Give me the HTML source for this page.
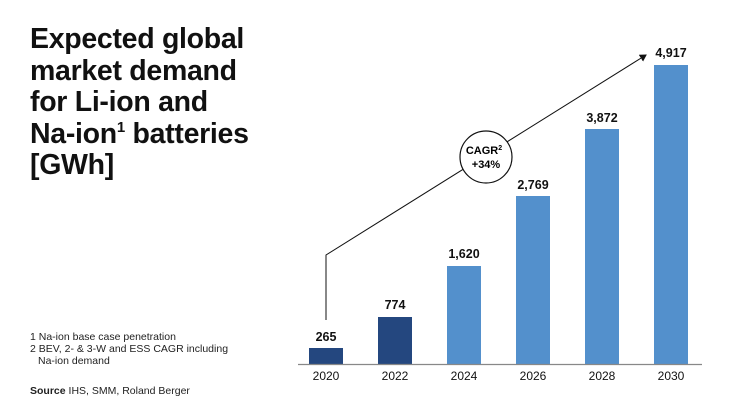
<!DOCTYPE html>
<html><head><style>
body{margin:0;width:746px;height:419px;background:#fff;overflow:hidden;font-family:"Liberation Sans",sans-serif;}
.t{position:absolute;left:30px;top:24px;font-size:28.5px;font-weight:bold;line-height:31.5px;color:#111;letter-spacing:-0.3px}
.f{position:absolute;left:30px;font-size:10.5px;color:#222}
</style></head><body>
<div class="t">Expected global<br>market demand<br>for Li-ion and<br>Na-ion<sup style="font-size:15px;vertical-align:11px;line-height:0">1</sup> batteries<br>[GWh]</div>
<div class="f" style="top:331px">1 Na-ion base case penetration</div>
<div class="f" style="top:343px">2 BEV, 2- &amp; 3-W and ESS CAGR including</div>
<div class="f" style="top:355px;left:38px">Na-ion demand</div>
<div class="f" style="top:385px"><b>Source</b> IHS, SMM, Roland Berger</div>
<svg width="746" height="419" style="position:absolute;left:0;top:0" font-family="Liberation Sans, sans-serif">
<defs><marker id="a" markerWidth="8" markerHeight="8" refX="6" refY="4" orient="auto"><path d="M0,0 L7,4 L0,8 z" fill="#111"/></marker></defs>
<g fill="#24477f"><rect x="309" y="348" width="34" height="16"/><rect x="378" y="317" width="34" height="47"/></g>
<g fill="#5390cc"><rect x="447" y="266" width="34" height="98"/><rect x="516" y="196" width="34" height="168"/><rect x="585" y="129" width="34" height="235"/><rect x="654" y="65" width="34" height="299"/></g>
<line x1="298" y1="364.5" x2="702" y2="364.5" stroke="#888" stroke-width="1.2"/>
<g font-size="12" text-anchor="middle" fill="#111"><text x="326" y="380">2020</text><text x="395" y="380">2022</text><text x="464" y="380">2024</text><text x="533" y="380">2026</text><text x="602" y="380">2028</text><text x="671" y="380">2030</text></g>
<g font-size="12.5" font-weight="bold" text-anchor="middle" fill="#111"><text x="326" y="341">265</text><text x="395" y="309">774</text><text x="464" y="258">1,620</text><text x="533" y="189">2,769</text><text x="602" y="122">3,872</text><text x="671" y="57">4,917</text></g>
<polyline points="326,320 326,255 646,55" fill="none" stroke="#111" stroke-width="1" marker-end="url(#a)"/>
<circle cx="486" cy="157" r="26" fill="#fff" stroke="#111" stroke-width="1.2"/>
<text x="484" y="154" font-size="11" font-weight="bold" text-anchor="middle">CAGR<tspan font-size="7" dy="-4">2</tspan></text>
<text x="486" y="168" font-size="11" font-weight="bold" text-anchor="middle">+34%</text>
</svg>
</body></html>
